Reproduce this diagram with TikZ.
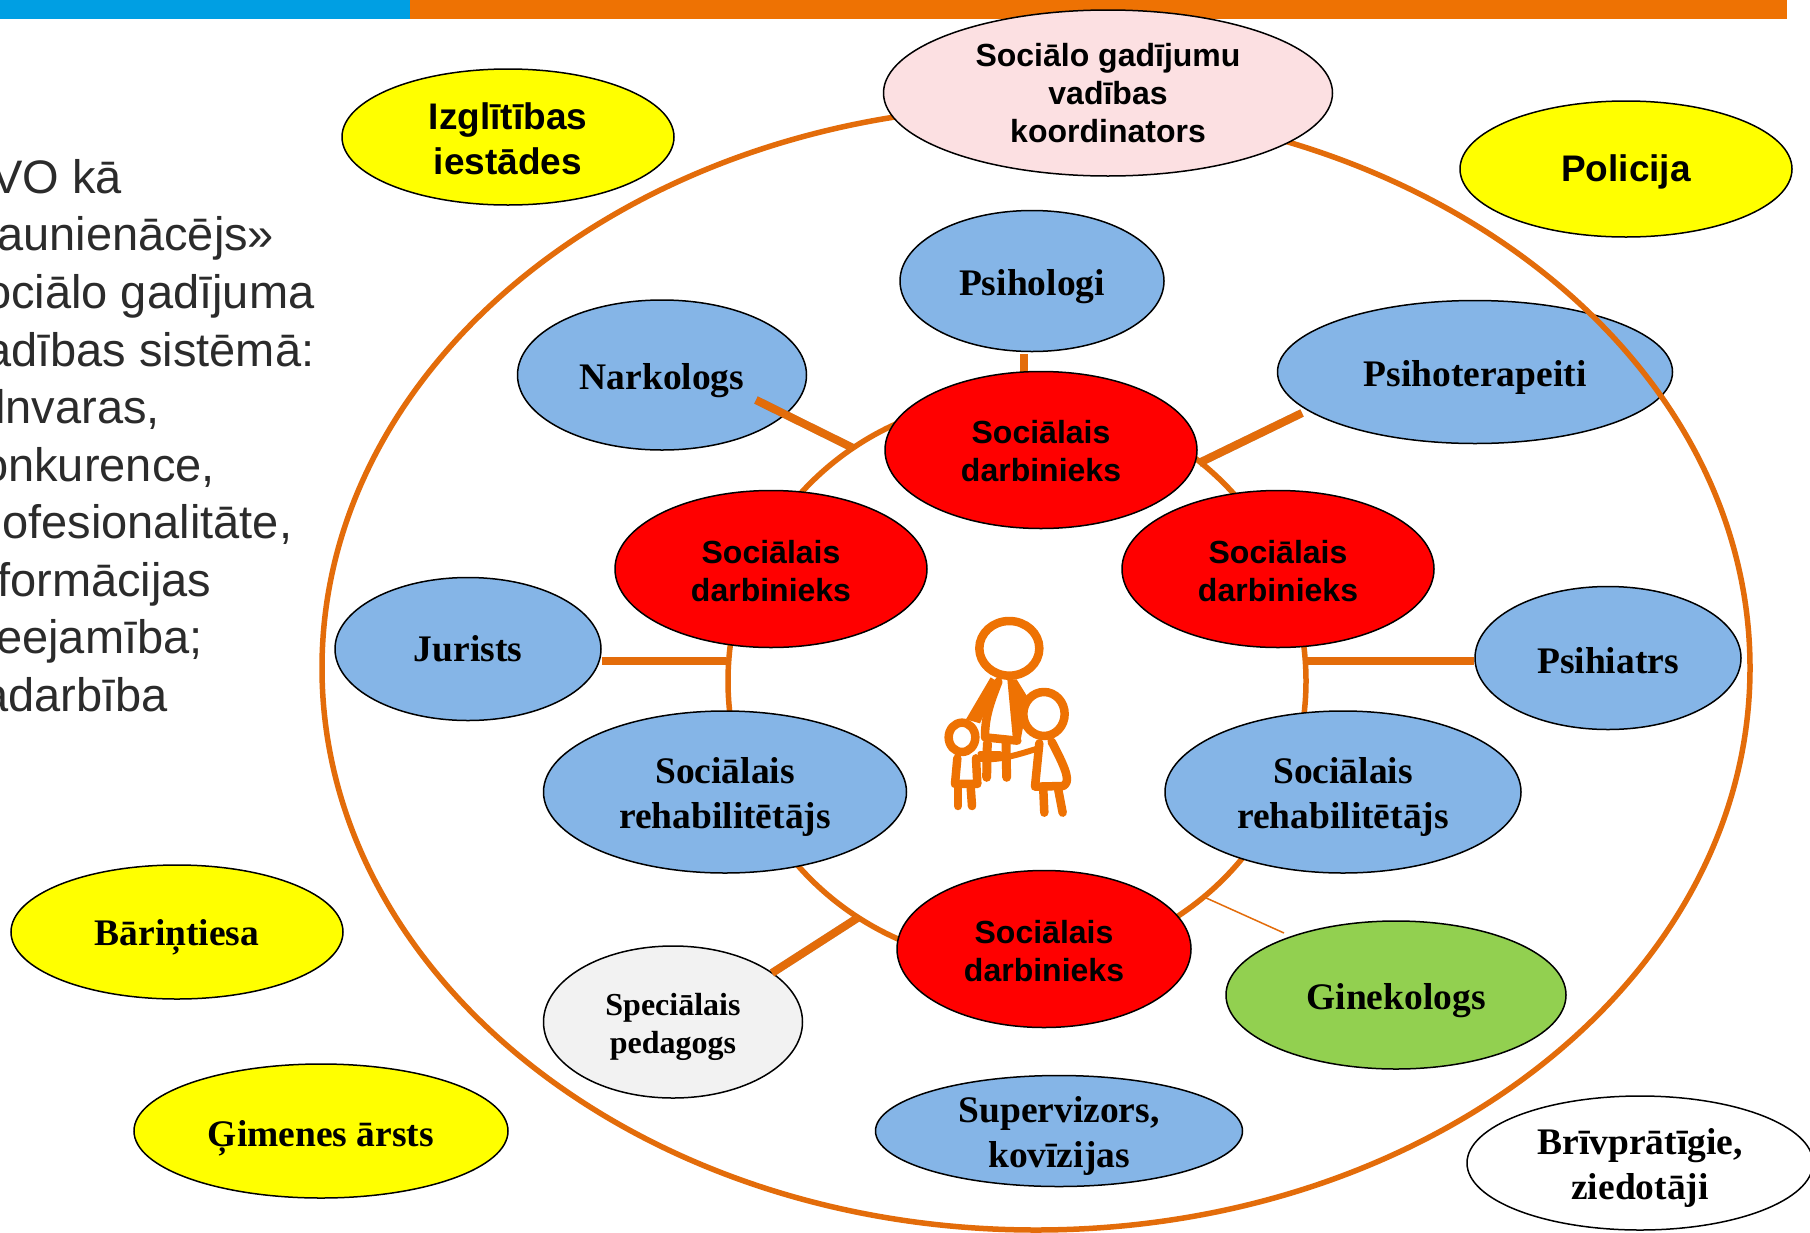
\documentclass[tikz,border=0pt]{standalone}
\usepackage{fontspec}
\usetikzlibrary{shapes.geometric}
\setmainfont{Liberation Serif}
\setsansfont{Liberation Sans}
\definecolor{ringc}{HTML}{E36C0A}
\definecolor{barblue}{HTML}{009FE3}
\definecolor{barorange}{HTML}{EE7203}
\definecolor{bluefill}{HTML}{85B5E7}
\definecolor{pinkfill}{HTML}{FCE0E2}
\definecolor{greenfill}{HTML}{92D050}
\definecolor{grayfill}{HTML}{F2F2F2}
\definecolor{leftext}{HTML}{2B2B2B}
\definecolor{yelfill}{RGB}{255,255,0}
\definecolor{redfill}{RGB}{255,0,0}
\tikzset{
 x=1pt,y=-1pt,
 rul/.style={execute at begin node={\rule{0pt}{#1}}},
 bub/.style={ellipse,draw=black,line width=1.5pt,inner sep=0pt,align=center,font=\fontsize{37.5}{45}\selectfont\bfseries},
 sansbub/.style={bub,font=\fontsize{37}{45}\selectfont\sffamily\bfseries},
 sdbub/.style={bub,fill=redfill,font=\fontsize{32}{38}\selectfont\sffamily\bfseries,minimum width=312pt,minimum height=157pt},
 bluebub/.style={bub,fill=bluefill},
 yelbub/.style={bub,fill=yelfill},
 ringline/.style={draw=ringc,line width=5.5pt},
 conn/.style={draw=ringc,line width=8pt},
 connshadow/.style={draw=black!70,opacity=.4,line width=8pt,shift={(3pt,-4pt)}},
 ltext/.style={anchor=base west,inner sep=0pt,text=leftext,font=\fontsize{47}{57}\selectfont\sffamily},
 fam/.style={draw=barorange,line width=8.5pt,line cap=round,line join=round}
}
\begin{document}
\begin{tikzpicture}
\useasboundingbox (0,0) rectangle (1810,1232);
\clip (0,0) rectangle (1810,1232);
\fill[white] (0,0) rectangle (1810,1232);
% top bar
\fill[barblue] (0,0) rectangle (410,19);
\fill[barorange] (410,0) rectangle (1787,19);
% left text
\node[ltext] (t1) at (-9,193) {VO kā};
\node[ltext] (t2) at (-3,250) {aunienācējs»};
\node[ltext] (t3) at (-15,308) {ociālo gadījuma};
\node[ltext] (t4) at (-15,366) {adības sistēmā:};
\node[ltext] (t5) at (-5,423) {lnvaras,};
\node[ltext] (t6) at (-18,481) {onkurence,};
\node[ltext] (t7) at (2,538) {ofesionalitāte,};
\node[ltext] (t8) at (-3,596) {formācijas};
\node[ltext] (t9) at (-4,653) {eejamība;};
\node[ltext] (t10) at (-18,711) {adarbība};
% blue node beneath the outer ring
\node[bluebub,rul=37pt,minimum width=395pt,minimum height=143pt] (psihot) at (1475,372) {Psihoterapeiti};
% rings
\draw[ringline] (1036,668) ellipse [x radius=714,y radius=562];
\draw[ringline] (1017,681) ellipse [x radius=289,y radius=283];
% outer yellow
\node[sansbub,fill=yelfill,minimum width=332pt,minimum height=136pt,rul=76pt] (izgl) at (508,137) {Izglītības\\iestādes};
\node[sansbub,fill=yelfill,minimum width=332pt,minimum height=136pt,rul=33pt] (polic) at (1626,169) {Policija};
\node[yelbub,minimum width=332pt,minimum height=134pt,rul=37pt] (bar) at (177,932) {Bāriņtiesa};
\node[yelbub,minimum width=374pt,minimum height=134pt,rul=41pt] (gim) at (321,1131) {Ģimenes ārsts};
\node[bub,fill=white,minimum width=346pt,minimum height=134pt,rul=81pt] (briv) at (1640,1163) {Brīvprātīgie,\\ziedotāji};
\node[sansbub,fill=pinkfill,font=\fontsize{32}{38}\selectfont\sffamily\bfseries,minimum width=449pt,minimum height=166pt] (koord) at (1108,93) {Sociālo gadījumu\\vadības\\koordinators};
% blue ring nodes
\node[bluebub,minimum width=264pt,minimum height=141pt,rul=37pt] (psihol) at (1032,281) {Psihologi};
\node[bluebub,minimum width=289pt,minimum height=150pt,rul=37pt] (nark) at (662,375) {Narkologs};
\node[bluebub,minimum width=266pt,minimum height=143pt] (jur) at (468,649) {Jurists};
\node[bluebub,minimum width=266pt,minimum height=143pt,rul=31pt] (psihia) at (1608,658) {Psihiatrs};
\node[bluebub,minimum width=363pt,minimum height=162pt,rul=81pt] (rehl) at (725,792) {Sociālais\\rehabilitētājs};
\node[bluebub,minimum width=356pt,minimum height=162pt,rul=81pt] (rehr) at (1343,792) {Sociālais\\rehabilitētājs};
\node[bub,fill=greenfill,minimum width=340pt,minimum height=148pt,rul=37pt] (gine) at (1396,995) {Ginekologs};
\node[bub,fill=grayfill,font=\fontsize{32}{38}\selectfont\bfseries,minimum width=259pt,minimum height=152pt,rul=70pt] (ped) at (673,1022) {Speciālais\\pedagogs};
\node[bluebub,minimum width=367pt,minimum height=111pt] (sup) at (1059,1131) {\raisebox{-11pt}[0pt][0pt]{\begin{tabular}{@{}c@{}}Supervizors,\\kovīzijas\end{tabular}}};
% connector ends
\coordinate (cn) at (756,400);
\coordinate (cnr) at (853,448);
\coordinate (cpt) at (1024,354);
\coordinate (cpb) at (1024,385);
\coordinate (cp) at (1302,413);
\coordinate (cpr) at (1199,463);
\coordinate (cj) at (726,661);
\coordinate (cpi) at (1304,661);
\coordinate (csa) at (772,973);
\coordinate (cs) at (859,917);
\coordinate (cg) at (1204,897);
\coordinate (cge) at (1284,933);
% shadows
\draw[connshadow] (cn) -- (cnr);
\draw[connshadow] (cp) -- (cpr);
\draw[connshadow] (csa) -- (cs);
% connectors
\draw[conn] (cn) -- (cnr);
\draw[conn] (cpt) -- (cpb);
\draw[conn] (cp) -- (cpr);
\draw[conn] (jur.east |- cj) -- (cj);
\draw[conn] (cpi) -- (psihia.west |- cpi);
\draw[conn] (csa) -- (cs);
\draw[draw=ringc,line width=1.5pt] (cg) -- (cge);
% red nodes
\node[sdbub,rul=63pt] (sdt) at (1041,450) {Sociālais\\darbinieks};
\node[sdbub,rul=65pt] (sdl) at (771,569) {Sociālais\\darbinieks};
\node[sdbub,rul=65pt] (sdr) at (1278,569) {Sociālais\\darbinieks};
\node[sdbub,rul=65pt,minimum width=294pt] (sdb) at (1044,949) {Sociālais\\darbinieks};
% family icon
\begin{scope}[shift={(900,580)},x=0.3333pt,y=-0.3333pt]
 \fill[barorange] (272,292) -- (198,418) -- (240,430) -- (258,390) -- (292,305) -- cycle;
 \fill[barorange] (322,298) -- (350,298) -- (385,355) -- (362,480) -- (338,470) -- cycle;
 \draw[fam] (295,305) .. controls (270,370) and (255,410) .. (255,472) -- (352,482);
 \draw[fam,line width=9pt] (262,490) -- (260,592);
 \draw[fam,line width=9pt] (318,490) -- (320,592);
 \draw[fam,fill=white] (328,205) ellipse [x radius=90,y radius=82];
 \draw[fam] (172,535) -- (165,612) -- (232,612) -- (228,535);
 \draw[fam] (174,620) -- (174,678);
 \draw[fam] (212,620) -- (216,678);
 \draw[fam,line width=5pt] (240,522) -- (300,522);
 \draw[fam,line width=6pt] (232,535) .. controls (290,545) and (350,525) .. (415,505);
 \draw[fam,fill=white] (186,472) ellipse [x radius=40,y radius=44];
 \draw[fam] (418,490) -- (405,620) -- (490,618) .. controls (510,605) and (505,580) .. (455,485);
 \draw[fam] (430,630) -- (433,698);
 \draw[fam] (475,630) -- (488,698);
 \draw[fam,fill=white] (432,402) ellipse [x radius=62,y radius=66];
\end{scope}
\end{tikzpicture}
\end{document}
